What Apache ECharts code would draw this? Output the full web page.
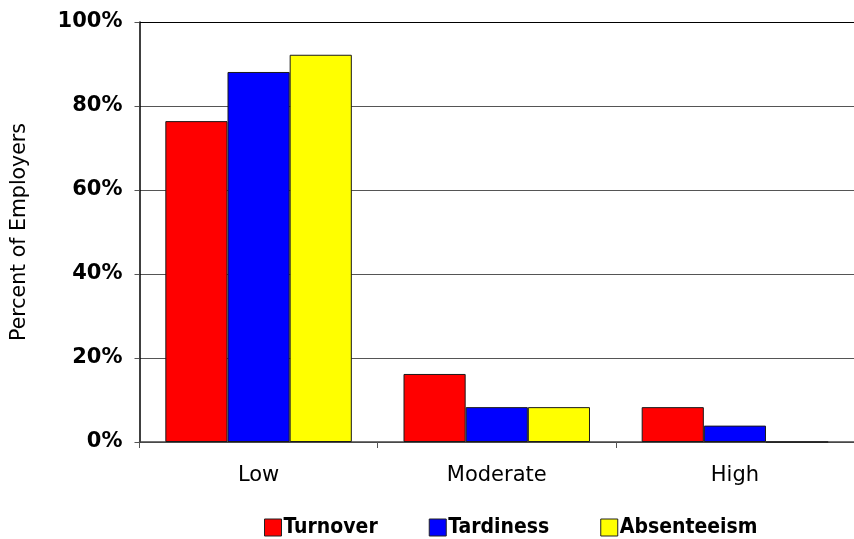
<!DOCTYPE html>
<html>
<head>
<meta charset="utf-8">
<script src="https://cdn.jsdelivr.net/npm/echarts@6/dist/echarts.min.js"></script>
<style>
  html, body { margin: 0; padding: 0; background: #fff; }
  #chart { width: 854px; height: 539px; }
</style>
</head>
<body>
<div id="chart"></div>
<script>
// Share of employers by impact level
const categories = ['Low', 'Moderate', 'High'];
const turnover = [76.4, 16.2, 8.3];
const tardiness = [88.1, 8.3, 3.9];
const absenteeism = [92.2, 8.3, 0];
const yTicks = [0, 20, 40, 60, 80, 100];

const FONT = '"DejaVu Sans", Verdana, sans-serif';
const FONT_NARROW = '"DejaVu Sans Condensed", "DejaVu Sans", sans-serif';

function barSeries(name, data, color) {
  return {
    name: name,
    type: 'bar',
    data: data,
    barGap: '0%',
    barCategoryGap: '21.7%',
    itemStyle: { color: color, borderColor: '#1a1a1a', borderWidth: 1 }
  };
}

const chart = echarts.init(document.getElementById('chart'), null, { renderer: 'canvas' });
chart.setOption({
  animation: false,
  backgroundColor: '#fff',
  textStyle: { fontFamily: FONT },
  grid: { left: 139.5, top: 22, width: 718, height: 420, containLabel: false },
  legend: {
    top: 512,
    left: 259,
    itemWidth: 17,
    itemHeight: 17,
    itemGap: 51,
    icon: 'rect',
    textStyle: { fontFamily: FONT_NARROW, fontSize: 21, fontWeight: 'bold', color: '#000', padding: [0, 0, 0, -3] },
    itemStyle: { borderColor: '#222', borderWidth: 1 },
    data: ['Turnover', 'Tardiness', 'Absenteeism']
  },
  xAxis: {
    type: 'category',
    data: categories,
    axisLine: { lineStyle: { color: '#444', width: 1.5 } },
    axisTick: { show: true, length: 6, lineStyle: { color: '#555' } },
    axisLabel: { fontFamily: FONT, fontSize: 21, color: '#000', margin: 23 }
  },
  yAxis: {
    type: 'value',
    min: 0,
    max: 100,
    interval: 20,
    name: 'Percent of Employers',
    nameLocation: 'middle',
    nameGap: 109,
    nameRotate: 90,
    nameTextStyle: { fontFamily: FONT, fontSize: 20.5, color: '#000' },
    axisLine: { show: true, lineStyle: { color: '#000', width: 1.5 } },
    axisTick: { show: true, length: 5, lineStyle: { color: '#555' } },
    axisLabel: {
      fontFamily: FONT, fontSize: 21, fontWeight: 'bold', color: '#000', margin: 17,
      formatter: function (v) { return yTicks.indexOf(v) >= 0 ? v + '%' : ''; }
    },
    splitLine: {
      show: true,
      lineStyle: { color: ['#555', '#555', '#555', '#555', '#555', '#000'], width: 1.2 }
    }
  },
  series: [
    barSeries('Turnover', turnover, '#ff0000'),
    barSeries('Tardiness', tardiness, '#0000ff'),
    barSeries('Absenteeism', absenteeism, '#ffff00')
  ]
});
</script>
</body>
</html>
